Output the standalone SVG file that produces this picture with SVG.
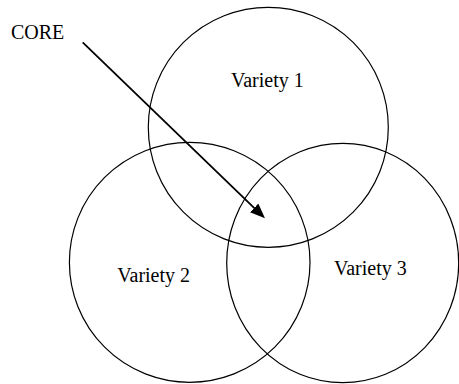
<svg xmlns="http://www.w3.org/2000/svg" width="459" height="384" viewBox="0 0 459 384">
<style>
.c{fill:none;stroke:#000;stroke-width:1.2}
.t{font-family:"Liberation Serif","Times New Roman",serif;font-size:20px;fill:#000}
.a{stroke:#000;stroke-width:1.8;fill:none}
</style>
<defs>
<marker id="ah" markerUnits="userSpaceOnUse" markerWidth="15" markerHeight="12" refX="1" refY="6" orient="auto" viewBox="0 0 15 12">
<path d="M0,0 L15,6 L0,12 z" fill="#000"/>
</marker>
</defs>
<rect width="459" height="384" fill="#fff"/>
<g id="variety1">
<circle class="c" cx="268.3" cy="127.3" r="120"/>
<text class="t" x="231" y="87.3">Variety 1</text>
</g>
<g id="variety2">
<ellipse class="c" cx="189.7" cy="262.3" rx="120.3" ry="120"/>
<text class="t" x="117.3" y="282.3">Variety 2</text>
</g>
<g id="variety3">
<ellipse class="c" cx="342.7" cy="263" rx="116" ry="119.7"/>
<text class="t" x="334" y="275">Variety 3</text>
</g>
<g id="core">
<text class="t" x="11" y="39">CORE</text>
</g>
<g id="connectors">
<line class="a" x1="82.7" y1="42.3" x2="254.9" y2="208.6" marker-end="url(#ah)"/>
</g>
</svg>
